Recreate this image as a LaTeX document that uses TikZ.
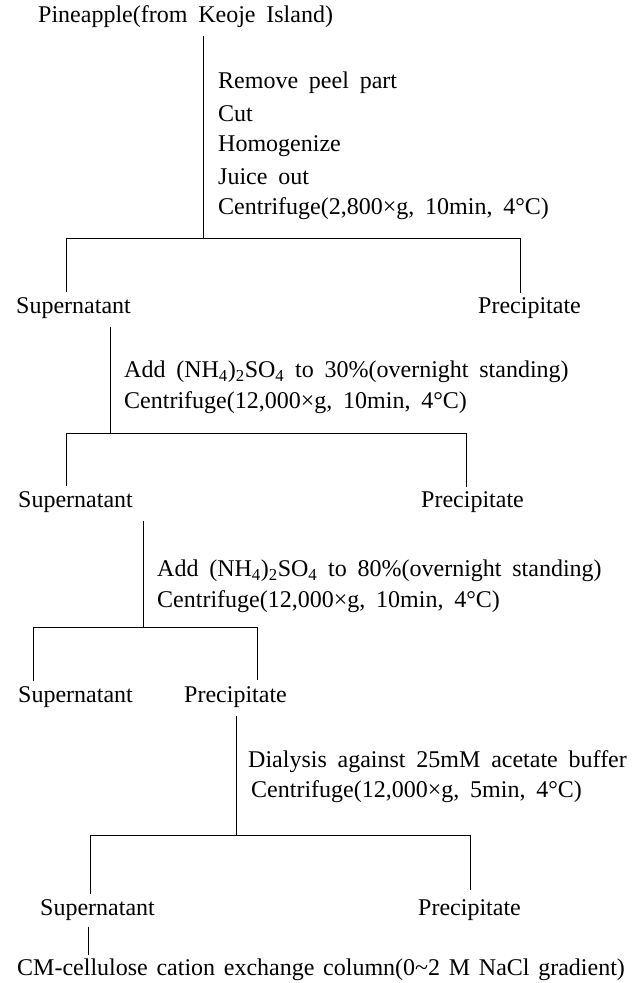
\documentclass[tikz,border=0pt]{standalone}
\usepackage{fontspec}
\setmainfont{Liberation Serif}[WordSpace={1.8,1,1}]
\newfontfamily\cmfont{Liberation Serif}[WordSpace={1.45,1,1}]
\begin{document}
\begin{tikzpicture}[x=1pt,y=-1pt,
  lbl/.style={anchor=west,inner sep=0pt,font=\fontsize{24}{28}\selectfont},
  ln/.style={line width=1pt}]
\useasboundingbox[fill=white] (0,0) rectangle (635,983);
% level 0
\node[lbl] (p0) at (38,17) {Pineapple(from Keoje Island)};
\node[lbl] (s1a) at (218,83) {Remove peel part};
\node[lbl] (s1b) at (218,114) {Cut};
\node[lbl] (s1c) at (218,146) {Homogenize};
\node[lbl] (s1d) at (218,177) {Juice out};
\node[lbl] (s1e) at (218,209) {Centrifuge(2,800×g, 10min, 4°C)};
\coordinate (j1) at (203,238);
\coordinate (h1l) at (66,238);
\coordinate (h1r) at (520,238);
\node[lbl] (sup1) at (16,308) {Supernatant};
\node[lbl] (pre1) at (478,308) {Precipitate};
\draw[ln] (j1 |- p0.south) ++(0,8) -- (j1);
\draw[ln] (h1l |- sup1.north) ++(0,-5) -- (h1l) -- (h1r) -- ++(0,55);
% level 1
\coordinate (j2) at (110,433);
\coordinate (h2l) at (66,433);
\coordinate (h2r) at (466,433);
\node[lbl] (s2a) at (124,372) {Add (NH\textsubscript{4})\textsubscript{2}SO\textsubscript{4} to 30\%(overnight standing)};
\node[lbl] (s2b) at (124,403) {Centrifuge(12,000×g, 10min, 4°C)};
\node[lbl] (sup2) at (18,502) {Supernatant};
\node[lbl] (pre2) at (421,502) {Precipitate};
\draw[ln] (j2 |- sup1.south) ++(0,8) -- (j2);
\draw[ln] (h2l |- sup2.north) ++(0,-5) -- (h2l) -- (h2r) -- ++(0,54);
% level 2
\coordinate (j3) at (143,627);
\coordinate (h3l) at (33,627);
\coordinate (h3r) at (257,627);
\node[lbl] (s3a) at (157,571) {Add (NH\textsubscript{4})\textsubscript{2}SO\textsubscript{4} to 80\%(overnight standing)};
\node[lbl] (s3b) at (157,602) {Centrifuge(12,000×g, 10min, 4°C)};
\node[lbl] (sup3) at (18,697) {Supernatant};
\node[lbl] (pre3) at (184,697) {Precipitate};
\draw[ln] (j3 |- sup2.south) ++(0,8) -- (j3);
\draw[ln] (h3l |- sup3.north) ++(0,-5) -- (h3l) -- (h3r) -- ++(0,53);
% level 3
\coordinate (j4) at (236,835);
\coordinate (h4l) at (90,835);
\coordinate (h4r) at (470,835);
\node[lbl] (s4a) at (248,762) {Dialysis against 25mM acetate buffer};
\node[lbl] (s4b) at (251,792) {Centrifuge(12,000×g, 5min, 4°C)};
\node[lbl] (sup4) at (40,910) {Supernatant};
\node[lbl] (pre4) at (418,910) {Precipitate};
\draw[ln] (j4 |- pre3.south) ++(0,8) -- (j4);
\draw[ln] (h4l |- sup4.north) ++(0,-5) -- (h4l) -- (h4r) -- ++(0,55);
% final
\coordinate (j5) at (88,955);
\node[lbl,font=\fontsize{24}{28}\cmfont] (cm) at (17,970) {CM-cellulose cation exchange column(0\textasciitilde 2 M NaCl gradient)};
\draw[ln] (j5 |- sup4.south) ++(0,6) -- (j5);
\end{tikzpicture}
\end{document}
